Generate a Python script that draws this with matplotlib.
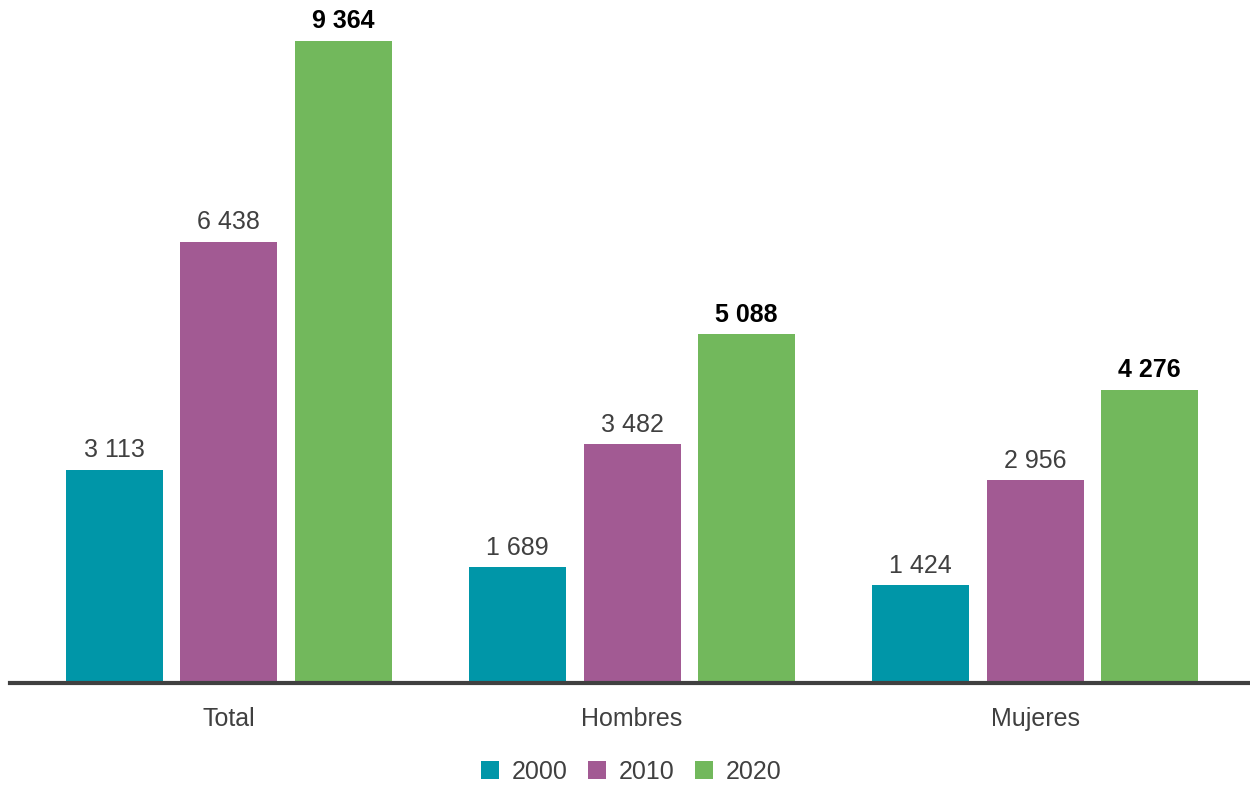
import numpy as np
import matplotlib
matplotlib.use("Agg")
import matplotlib.pyplot as plt
from matplotlib.patches import Patch

plt.rcParams['font.family'] = ['Liberation Sans', 'DejaVu Sans']

categories = ["Total", "Hombres", "Mujeres"]
years = ["2000", "2010", "2020"]
v2000 = [3113, 1689, 1424]
v2010 = [6438, 3482, 2956]
v2020 = [9364, 5088, 4276]
labels2000 = ["3 113", "1 689", "1 424"]
labels2010 = ["6 438", "3 482", "2 956"]
labels2020 = ["9 364", "5 088", "4 276"]

colors = ["#0096A8", "#A25A93", "#72B85C"]
text_grey = "#404040"

fig = plt.figure(figsize=(12.5, 7.85), dpi=100)
ax = fig.add_axes([0.008, 0.1299, 0.992, 0.8573])

x = np.arange(len(categories))
width = 0.2407
step = 0.284
series = [v2000, v2010, v2020]
labs = [labels2000, labels2010, labels2020]

for i, (vals, lab) in enumerate(zip(series, labs)):
    pos = x + (i - 1) * step
    ax.bar(pos, vals, width, color=colors[i], zorder=2)
    for p, v, t in zip(pos, vals, lab):
        if i == 2:
            ax.text(p, v + 110, t, ha='center', va='bottom', fontsize=18,
                    fontweight='bold', color='black')
        else:
            ax.text(p, v + 110, t, ha='center', va='bottom', fontsize=18,
                    color=text_grey)

ax.set_xlim(-0.543, 2.533)
ax.set_ylim(0, 9816)
for s in ['top', 'right', 'left']:
    ax.spines[s].set_visible(False)
ax.spines['bottom'].set_color(text_grey)
ax.spines['bottom'].set_linewidth(3)
ax.spines['bottom'].set_zorder(3)
ax.set_yticks([])
ax.set_xticks(x)
ax.set_xticklabels(categories, fontsize=18, color=text_grey)
ax.tick_params(axis='x', length=0, pad=17)

handles = [Patch(facecolor=c, label=y) for c, y in zip(colors, years)]
fig.legend(handles=handles, loc='center', bbox_to_anchor=(0.505, 0.017),
           ncol=3, frameon=False, fontsize=18, handlelength=0.72, handleheight=0.72,
           handletextpad=0.52, columnspacing=0.8, labelcolor=text_grey)

fig.savefig("out.png", dpi=100)
